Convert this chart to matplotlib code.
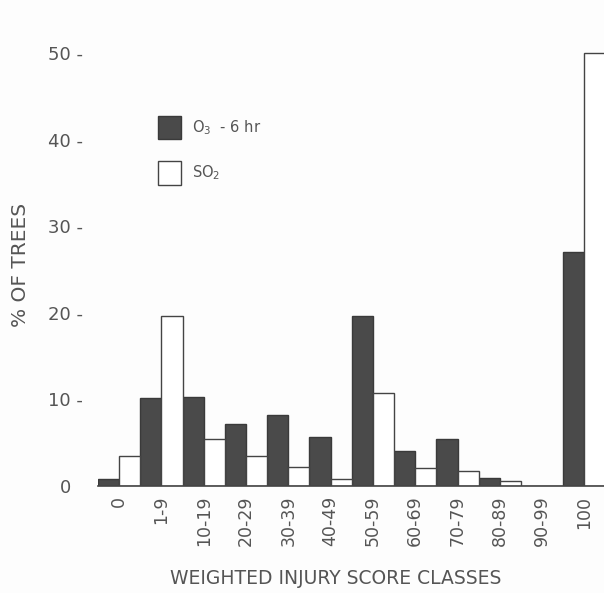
import numpy as np
import matplotlib
matplotlib.use('Agg')
import matplotlib.pyplot as plt
from matplotlib.patches import Patch
from matplotlib.transforms import ScaledTranslation

# data
classes = ['0', '1-9', '10-19', '20-29', '30-39', '40-49', '50-59',
           '60-69', '70-79', '80-89', '90-99', '100']
o3_6hr = [0.8, 10.2, 10.3, 7.2, 8.2, 5.7, 19.6, 4.0, 5.4, 0.9, 0.0, 27.0]
so2 = [3.5, 19.6, 5.4, 3.5, 2.2, 0.8, 10.7, 2.1, 1.7, 0.6, 0.0, 50.0]
yticks = [0, 10, 20, 30, 40, 50]

ink = '#4a4a4a'
txt = '#555555'

fig = plt.figure(figsize=(6.04, 5.93), dpi=100)
fig.patch.set_facecolor('#fdfdfd')
W, H = 604.0, 593.0
ax = fig.add_axes([98 / W, (H - 486) / H, 506 / W, 466 / H])
ax.set_facecolor('none')

x = np.arange(len(classes))
ax.bar(x, o3_6hr, width=-0.5, align='edge', color=ink, edgecolor='#3a3a3a', lw=1)
ax.bar(x, so2, width=0.5, align='edge', color='white', edgecolor='#444444', lw=1)

ax.set_xlim(-0.5, (604 - 118) / 42.4)
ax.set_ylim(0, 466 / 8.66)

for s in ['top', 'right', 'left']:
    ax.spines[s].set_visible(False)
ax.spines['bottom'].set_color('#444444')
ax.spines['bottom'].set_linewidth(1.2)

ax.set_xticks(x)
ax.set_xticklabels(classes, rotation=90, fontsize=12.5, color=txt)
ax.tick_params(axis='x', length=0, pad=7)

ax.set_yticks(yticks)
ax.set_yticklabels(['0'] + ['%d -' % v for v in yticks[1:]], fontsize=13, color=txt)
ax.tick_params(axis='y', length=0, pad=11)
lab0 = ax.get_yticklabels()[0]
lab0.set_transform(lab0.get_transform() + ScaledTranslation(-0.12, 0, fig.dpi_scale_trans))

fig.text(21 / W, 1 - 265 / H, '% OF TREES', rotation=90, ha='center', va='center',
         fontsize=14.5, color=txt)
fig.text(336 / W, 1 - 578 / H, 'WEIGHTED INJURY SCORE CLASSES', ha='center', va='center',
         fontsize=13.5, color=txt)

handles = [Patch(facecolor=ink, edgecolor='#3a3a3a', lw=1),
           Patch(facecolor='white', edgecolor='#444444', lw=1)]
leg = ax.legend(handles, ['O$_3$  - 6 hr', 'SO$_2$'], loc='upper left',
                bbox_to_anchor=((158 - 98) / 506, (486 - 116) / 466),
                frameon=False, fontsize=10.5, borderpad=0, borderaxespad=0,
                handlelength=1.6, handleheight=2.1, handletextpad=0.7,
                labelspacing=1.5)
for t in leg.get_texts():
    t.set_color(txt)

fig.savefig('out.png', dpi=100, facecolor=fig.get_facecolor())
